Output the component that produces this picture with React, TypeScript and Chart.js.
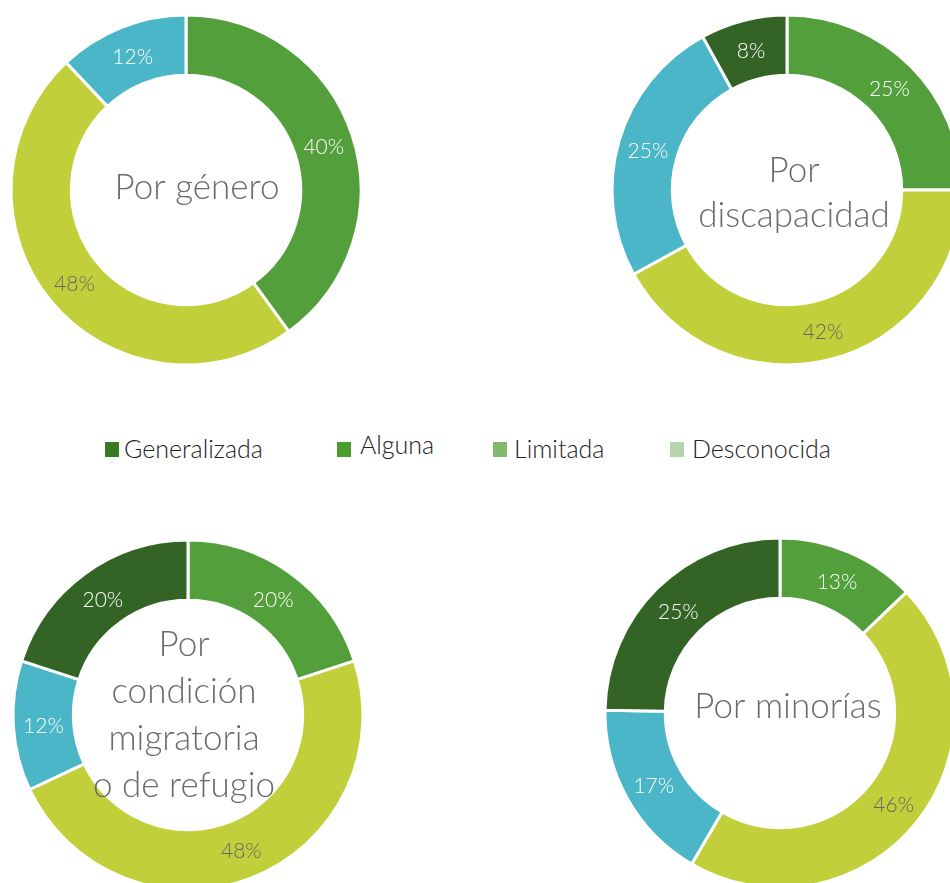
import React, { useEffect, useRef } from "react";
import { Chart, registerables } from "chart.js";

Chart.register(...registerables);

// Data
const sliceLabels = ["Alguna", "Media", "Baja", "Generalizada"];
const sliceColors = ["#539F3B", "#C1D03A", "#4BB6C7", "#336325"];
const labelColors = ["#FFFFFF", "#666666", "#FFFFFF", "#FFFFFF"];

const generoValues = [40, 48, 12, 0];
const discapacidadValues = [25, 42, 25, 8];
const migratoriaValues = [20, 48, 12, 20];
const minoriasValues = [13, 46, 17, 25];

const generoTitle = ["Por género"];
const discapacidadTitle = ["Por", "discapacidad"];
const migratoriaTitle = ["Por", "condición", "migratoria", "o de refugio"];
const minoriasTitle = ["Por minorías"];

const legendLabels = ["Generalizada", "Alguna", "Limitada", "Desconocida"];
const legendColors = ["#3A7A22", "#4C9D2F", "#80B96C", "#B5D6AC"];

const FONT = "Lato, 'Open Sans', sans-serif";

const labelPlugin = {
  id: "sliceLabels",
  afterDatasetsDraw(chart: any) {
    const ctx = chart.ctx;
    const meta = chart.getDatasetMeta(0);
    const data = chart.data.datasets[0].data as number[];
    ctx.save();
    ctx.font = `300 21px ${FONT}`;
    ctx.textAlign = "center";
    ctx.textBaseline = "middle";
    meta.data.forEach((arc: any, i: number) => {
      if (!data[i]) return;
      const p = arc.tooltipPosition();
      ctx.fillStyle = labelColors[i];
      ctx.fillText(`${data[i]}%`, p.x, p.y + 2);
    });
    // center title
    const opts = chart.options.plugins.centerTitle;
    const title: string[] = opts.lines;
    const first = meta.data[0];
    const cx = first.x + opts.dx;
    const cy = first.y + opts.dy;
    const lh = opts.lh;
    ctx.font = `300 35px ${FONT}`;
    ctx.fillStyle = "#6B6B6B";
    const top = cy - ((title.length - 1) * lh) / 2;
    title.forEach((t, k) => ctx.fillText(t, cx, top + k * lh));
    ctx.restore();
  },
};

function Donut({
  values,
  title,
  cx,
  cy,
  dx,
  dy,
  lh,
}: {
  values: number[];
  title: string[];
  cx: number;
  cy: number;
  dx: number;
  dy: number;
  lh: number;
}) {
  const ref = useRef<HTMLCanvasElement>(null);
  useEffect(() => {
    const chart = new Chart(ref.current!, {
      type: "doughnut",
      data: {
        labels: sliceLabels,
        datasets: [
          {
            data: values,
            backgroundColor: sliceColors,
            borderColor: "#FFFFFF",
            borderWidth: 3,
          },
        ],
      },
      options: {
        responsive: false,
        animation: false,
        radius: 175,
        cutout: 117,
        plugins: {
          legend: { display: false },
          tooltip: { enabled: false },
          centerTitle: { lines: title, dx, dy, lh },
        } as any,
      },
      plugins: [labelPlugin],
    });
    return () => chart.destroy();
  }, []);
  return (
    <canvas
      ref={ref}
      width={360}
      height={360}
      style={{ position: "absolute", left: cx - 180, top: cy - 180, width: 360, height: 360 }}
    />
  );
}

const legendPos = [
  { sx: 105, tx: 124, base: 457 },
  { sx: 337, tx: 360, base: 453 },
  { sx: 493, tx: 514, base: 457 },
  { sx: 670, tx: 692, base: 457 },
];

export default function App() {
  return (
    <div
      style={{
        position: "fixed",
        left: 0,
        top: 0,
        width: 950,
        height: 883,
        overflow: "hidden",
        background: "#FFFFFF",
      }}
    >
      <Donut values={generoValues} title={generoTitle} cx={186} cy={190} dx={11} dy={-2} lh={47} />
      <Donut values={discapacidadValues} title={discapacidadTitle} cx={787} cy={190} dx={7} dy={3} lh={45} />
      <Donut values={migratoriaValues} title={migratoriaTitle} cx={188} cy={715} dx={-4} dy={0} lh={47} />
      <Donut values={minoriasValues} title={minoriasTitle} cx={780} cy={713} dx={8} dy={-6} lh={47} />
      {legendLabels.map((l, i) => (
        <React.Fragment key={l}>
          <div
            style={{
              position: "absolute",
              left: legendPos[i].sx,
              top: 442,
              width: 14,
              height: 15,
              background: legendColors[i],
            }}
          />
          <div
            style={{
              position: "absolute",
              left: legendPos[i].tx,
              top: legendPos[i].base - 24,
              fontFamily: FONT,
              fontWeight: 300,
              fontSize: 25,
              lineHeight: "30px",
              color: "#222222",
              whiteSpace: "nowrap",
            }}
          >
            {l}
          </div>
        </React.Fragment>
      ))}
    </div>
  );
}
